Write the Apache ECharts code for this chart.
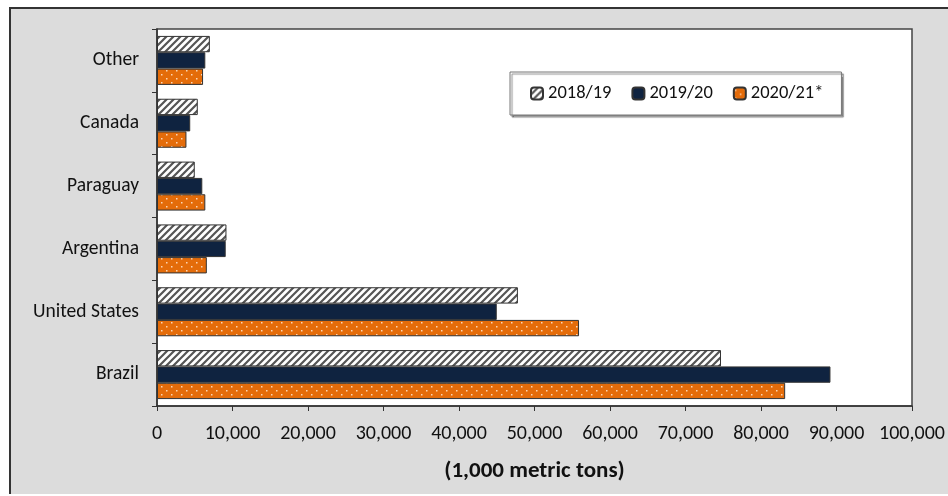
<!DOCTYPE html>
<html>
<head>
<meta charset="utf-8">
<script src="https://cdn.jsdelivr.net/npm/echarts@6/dist/echarts.min.js"></script>
<style>
html, body { margin: 0; padding: 0; background: #fff; }
#frame { position: absolute; left: 9px; top: 7px; width: 950px; height: 485px; background: #dcdcdc; border-left: 2px solid #333; border-top: 2px solid #333; }
#main { position: absolute; left: 0; top: 0; width: 948px; height: 496px; }
</style>
</head>
<body>
<div id="frame"></div>
<div id="main"></div>
<script>
var countries = ['Other', 'Canada', 'Paraguay', 'Argentina', 'United States', 'Brazil'];
var seasons = ['2018/19', '2019/20', '2020/21*'];
var exp1819 = [7000, 5400, 5000, 9200, 47800, 74700];
var exp1920 = [6400, 4400, 6000, 9100, 45000, 89200];
var exp2021 = [6100, 3900, 6400, 6600, 55900, 83200];
var xTicks = [0, 10000, 20000, 30000, 40000, 50000, 60000, 70000, 80000, 90000, 100000];

var font = "Carlito, 'Liberation Sans Narrow', 'Liberation Sans', sans-serif";

// striped fill for 2018/19
function hatch() {
    var c = document.createElement('canvas');
    c.width = 7; c.height = 7;
    var g = c.getContext('2d');
    g.fillStyle = '#fff';
    g.fillRect(0, 0, 7, 7);
    g.strokeStyle = '#555';
    g.lineWidth = 2.2;
    g.beginPath();
    g.moveTo(-1, 8); g.lineTo(8, -1);
    g.moveTo(-4, 4); g.lineTo(4, -4);
    g.moveTo(3, 11); g.lineTo(11, 3);
    g.stroke();
    return c;
}

// dotted orange fill for 2020/21
function dots() {
    var c = document.createElement('canvas');
    c.width = 10; c.height = 8;
    var g = c.getContext('2d');
    g.fillStyle = '#e46c0a';
    g.fillRect(0, 0, 10, 8);
    g.fillStyle = '#fbd5b5';
    g.fillRect(1, 2, 1.5, 1.5);
    g.fillRect(6, 6, 1.5, 1.5);
    return c;
}

var fills = [
    { image: hatch(), repeat: 'repeat' },
    '#0f2340',
    { image: dots(), repeat: 'repeat' }
];
var values = [exp1819, exp1920, exp2021];

var series = seasons.map(function (s, i) {
    return {
        name: s,
        type: 'bar',
        data: values[i],
        barGap: '0%',
        barCategoryGap: '22%',
        itemStyle: { color: fills[i], borderColor: '#333', borderWidth: 1 }
    };
});

var chart = echarts.init(document.getElementById('main'));
chart.setOption({
    backgroundColor: 'transparent',
    animation: false,
    textStyle: { fontFamily: font },
    grid: {
        left: 157, right: 36, top: 29, bottom: 90,
        show: true, backgroundColor: '#fff', borderColor: '#444', borderWidth: 1.5
    },
    legend: {
        data: seasons,
        left: 510, top: 72,
        padding: [12, 18, 12, 20],
        itemWidth: 12, itemHeight: 12, itemGap: 20,
        backgroundColor: '#fff',
        borderColor: '#777', borderWidth: 1,
        shadowColor: 'rgba(0,0,0,0.45)', shadowOffsetX: 2, shadowOffsetY: 2, shadowBlur: 1,
        textStyle: { fontSize: 18.5, color: '#111', fontFamily: font }
    },
    xAxis: {
        type: 'value',
        min: 0, max: 100000, interval: 10000,
        splitLine: { show: false },
        axisLine: { show: true, lineStyle: { color: '#333', width: 1.5 } },
        axisTick: { show: true, length: 5, lineStyle: { color: '#333' } },
        axisLabel: {
            margin: 18, fontSize: 20, color: '#111', fontFamily: font,
            formatter: function (v) { return v.toLocaleString('en-US'); }
        },
        name: '(1,000 metric tons)',
        nameLocation: 'middle',
        nameGap: 54,
        nameTextStyle: { fontSize: 23, fontWeight: 'bold', color: '#111', fontFamily: font }
    },
    yAxis: {
        type: 'category',
        data: countries,
        inverse: true,
        axisLine: { show: true, lineStyle: { color: '#333', width: 1.5 } },
        axisTick: { show: true, length: 5, lineStyle: { color: '#333' } },
        axisLabel: { margin: 18, fontSize: 19.5, color: '#111', fontFamily: font, padding: [4, 0, 0, 0] }
    },
    series: series
});
</script>
</body>
</html>
